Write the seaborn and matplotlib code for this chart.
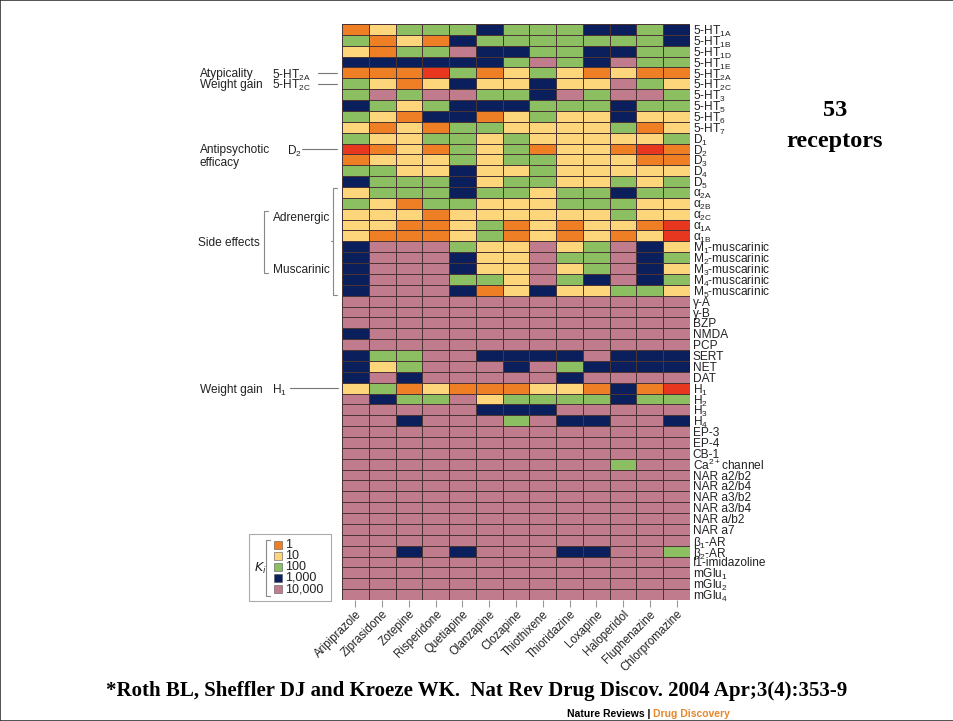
import numpy as np
import pandas as pd
import matplotlib
matplotlib.use("Agg")
import matplotlib.pyplot as plt
import matplotlib.transforms as mtransforms
from matplotlib.colors import ListedColormap, BoundaryNorm
from matplotlib.patches import Rectangle
import seaborn as sns

# drugs (columns) and receptors (rows)
drugs = ["Aripiprazole", "Ziprasidone", "Zotepine", "Risperidone", "Quetiapine",
         "Olanzapine", "Clozapine", "Thiothixene", "Thioridazine", "Loxapine",
         "Haloperidol", "Fluphenazine", "Chlorpromazine"]

receptors = [
    "5-HT$_{1A}$", "5-HT$_{1B}$", "5-HT$_{1D}$", "5-HT$_{1E}$", "5-HT$_{2A}$",
    "5-HT$_{2C}$", "5-HT$_{3}$", "5-HT$_{5}$", "5-HT$_{6}$", "5-HT$_{7}$",
    "D$_1$", "D$_2$", "D$_3$", "D$_4$", "D$_5$",
    "α$_{2A}$", "α$_{2B}$", "α$_{2C}$", "α$_{1A}$", "α$_{1B}$",
    "M$_1$-muscarinic", "M$_2$-muscarinic", "M$_3$-muscarinic",
    "M$_4$-muscarinic", "M$_5$-muscarinic",
    "γ-A", "γ-B", "BZP", "NMDA", "PCP", "SERT", "NET", "DAT",
    "H$_1$", "H$_2$", "H$_3$", "H$_4$", "EP-3", "EP-4", "CB-1",
    "Ca$^{2+}$channel", "NAR a2/b2", "NAR a2/b4", "NAR a3/b2", "NAR a3/b4",
    "NAR a/b2", "NAR a7", "β$_1$-AR", "β$_2$-AR", "I1-imidazoline",
    "mGlu$_1$", "mGlu$_2$", "mGlu$_4$",
]

# Ki bins (nM): r <1, o ~1, y ~10, g ~100, n ~1,000, p ~10,000
ki_code = {"r": 0.1, "o": 1, "y": 10, "g": 100, "n": 1000, "p": 10000}

ki_rows = [
    "oygggngggnngn",  # 5-HT1A
    "goyongggggggn",  # 5-HT1B
    "yoggpnnggnngg",  # 5-HT1D
    "nnnnnngpgnpgg",  # 5-HT1E
    "ooorgoygyoyoo",  # 5-HT2A
    "gyoynyynyypgy",  # 5-HT2C
    "gpgppggnpgppg",  # 5-HT3
    "ngygnnngggngg",  # 5-HT5
    "gyonnoygyynyy",  # 5-HT6
    "yoyoggyyyygoy",  # 5-HT7
    "gyyggygyyyyyg",  # D1
    "royogygoyyoro",  # D2
    "oyyygyggyyyoo",  # D3
    "ggyynyygyyyyy",  # D4
    "ngggnyggyygyg",  # D5
    "ygggnggyggngg",  # a2A
    "gyoggyyygggyy",  # a2B
    "yyyoyyyyyygyy",  # a2C
    "yyooygoyoyyor",  # a1A
    "yoooygoyoyoyr",  # a1B
    "npppgyypygpny",  # M1
    "npppnyypggpng",  # M2
    "npppnyypygpny",  # M3
    "npppggypgnpng",  # M4
    "npppnoynyyggy",  # M5
    "ppppppppppppp",  # g-A
    "ppppppppppppp",  # g-B
    "ppppppppppppp",  # BZP
    "npppppppppppp",  # NMDA
    "ppppppppppppp",  # PCP
    "nggppnnnnpnnn",  # SERT
    "nygpppnpgnnnn",  # NET
    "npnpppppnpppp",  # DAT
    "ygoyoooyyonor",  # H1
    "pnggpyggggngg",  # H2
    "pppppnnnppppp",  # H3
    "ppnpppgpnnppn",  # H4
    "ppppppppppppp",  # EP-3
    "ppppppppppppp",  # EP-4
    "ppppppppppppp",  # CB-1
    "ppppppppppgpp",  # Ca2+ channel
    "ppppppppppppp",  # NAR a2/b2
    "ppppppppppppp",  # NAR a2/b4
    "ppppppppppppp",  # NAR a3/b2
    "ppppppppppppp",  # NAR a3/b4
    "ppppppppppppp",  # NAR a/b2
    "ppppppppppppp",  # NAR a7
    "ppppppppppppp",  # b1-AR
    "ppnpnpppnnppg",  # b2-AR
    "ppppppppppppp",  # I1-imidazoline
    "ppppppppppppp",  # mGlu1
    "ppppppppppppp",  # mGlu2
    "ppppppppppppp",  # mGlu4
]

legend_ki = [1, 10, 100, 1000, 10000]
bin_colors = ["#e8371f", "#ef7f24", "#fdd67c", "#8cbf62", "#0b1f5d", "#c07c8d"]

sns.set_style("white")
plt.rcParams["font.family"] = ["Liberation Sans", "DejaVu Sans"]
plt.rcParams["mathtext.default"] = "regular"
plt.rcParams["text.color"] = "#222222"

ki_df = pd.DataFrame([[ki_code[c] for c in row] for row in ki_rows],
                     index=receptors, columns=drugs)
log_ki = np.log10(ki_df)

cmap = ListedColormap(bin_colors)
norm = BoundaryNorm([-1.5, -0.5, 0.5, 1.5, 2.5, 3.5, 4.5], cmap.N)

W, H = 954, 721
fig = plt.figure(figsize=(W / 100, H / 100), dpi=100)
ax = fig.add_axes([342 / W, 1 - 600 / H, 348 / W, 576 / H])

sns.heatmap(log_ki, cmap=cmap, norm=norm, cbar=False, linewidths=0.6,
            linecolor="#4a3434", xticklabels=drugs, yticklabels=receptors, ax=ax)

ax.set_xlabel("")
ax.set_ylabel("")
ax.set_xticklabels(drugs, rotation=45, ha="right", rotation_mode="anchor",
                   fontsize=8.3, color="#222222")
ax.tick_params(axis="x", bottom=True, length=5, width=0.8, color="#999999", pad=1)
ax.yaxis.tick_right()
ax.set_yticklabels(receptors, rotation=0, fontsize=8.6, color="#222222",
                   va="center_baseline")
ax.tick_params(axis="y", left=False, right=False, length=0, pad=2)

# overlay in pixel coordinates for the annotations
ov = fig.add_axes([0, 0, 1, 1])
ov.set_xlim(0, W)
ov.set_ylim(H, 0)
ov.set_axis_off()
ov.patch.set_visible(False)
rowt = mtransforms.blended_transform_factory(ov.transData, ax.transData)

ann_kw = dict(fontsize=8.6, va="center_baseline", transform=rowt)
line_kw = dict(color="#777777", lw=0.8, transform=rowt, clip_on=False)


def row_mid(label):
    return receptors.index(label) + 0.5


y = row_mid("5-HT$_{2A}$")
ov.text(200, y, "Atypicality", **ann_kw)
ov.text(272, y, "5-HT$_{2A}$", **ann_kw)
ov.plot([318, 337], [y, y], **line_kw)

y = row_mid("5-HT$_{2C}$")
ov.text(200, y, "Weight gain", **ann_kw)
ov.text(272, y, "5-HT$_{2C}$", **ann_kw)
ov.plot([318, 337], [y, y], **line_kw)

y = row_mid("D$_2$")
ov.text(200, y, "Antipsychotic", **ann_kw)
ov.text(287, y, "D$_2$", **ann_kw)
ov.plot([302, 337], [y, y], **line_kw)
ov.text(200, y + 1.15, "efficacy", **ann_kw)

y = row_mid("H$_1$")
ov.text(200, y, "Weight gain", **ann_kw)
ov.text(272, y, "H$_1$", **ann_kw)
ov.plot([290, 338], [y, y], **line_kw)

# side-effect brackets
brk_kw = dict(color="#888888", lw=0.8, transform=rowt, clip_on=False)
top, bot = receptors.index("α$_{2A}$"), receptors.index("M$_5$-muscarinic") + 1
ov.plot([337, 333, 333, 337], [top + 0.1, top + 0.1, bot - 0.1, bot - 0.1], **brk_kw)
mid = receptors.index("M$_1$-muscarinic")
ov.plot([331, 333], [mid, mid], **brk_kw)
ov.plot([268, 264, 264, 268], [17.2, 17.2, 22.9, 22.9], **brk_kw)
ov.text(273, 17.75, "Adrenergic", **ann_kw)
ov.text(273, 22.5, "Muscarinic", **ann_kw)
ov.text(198, 20.05, "Side effects", **ann_kw)

# Ki legend
ov.add_patch(Rectangle((249, 534), 82, 67, fill=False, edgecolor="#aaaaaa", lw=0.8))
ov.plot([270, 266, 266, 270], [540, 540, 596, 596], color="#888888", lw=0.8)
ov.text(254, 568, r"$\mathit{K}_{\mathit{i}}$", fontsize=9, va="center")
for i, v in enumerate(legend_ki):
    yc = 545 + i * 11
    ov.add_patch(Rectangle((274, yc - 4), 8, 8, facecolor=bin_colors[i + 1],
                           edgecolor="#555555", lw=0.4))
    ov.text(285, yc, f"{v:,}", fontsize=9, va="center")

serif = ["Liberation Serif", "DejaVu Serif"]
ov.text(835, 110, "53", ha="center", va="center", family=serif,
        weight="bold", fontsize=17.5, color="black")
ov.text(835, 141, "receptors", ha="center", va="center", family=serif,
        weight="bold", fontsize=17.5, color="black")

ov.text(477, 691,
        "*Roth BL, Sheffler DJ and Kroeze WK.  Nat Rev Drug Discov. 2004 Apr;3(4):353-9",
        ha="center", va="center", family=serif, weight="bold", fontsize=15,
        color="black")
ov.text(650, 714, "Nature Reviews |", ha="right", va="center", weight="bold",
        fontsize=7.5, color="black")
ov.text(653, 714, "Drug Discovery", ha="left", va="center", weight="bold",
        fontsize=7.5, color="#e8862a")

fig.patches.append(Rectangle((0, 0), 1, 1, transform=fig.transFigure, fill=False,
                             edgecolor="#333333", lw=1.2))

fig.savefig("out.png", dpi=100, facecolor="white")
